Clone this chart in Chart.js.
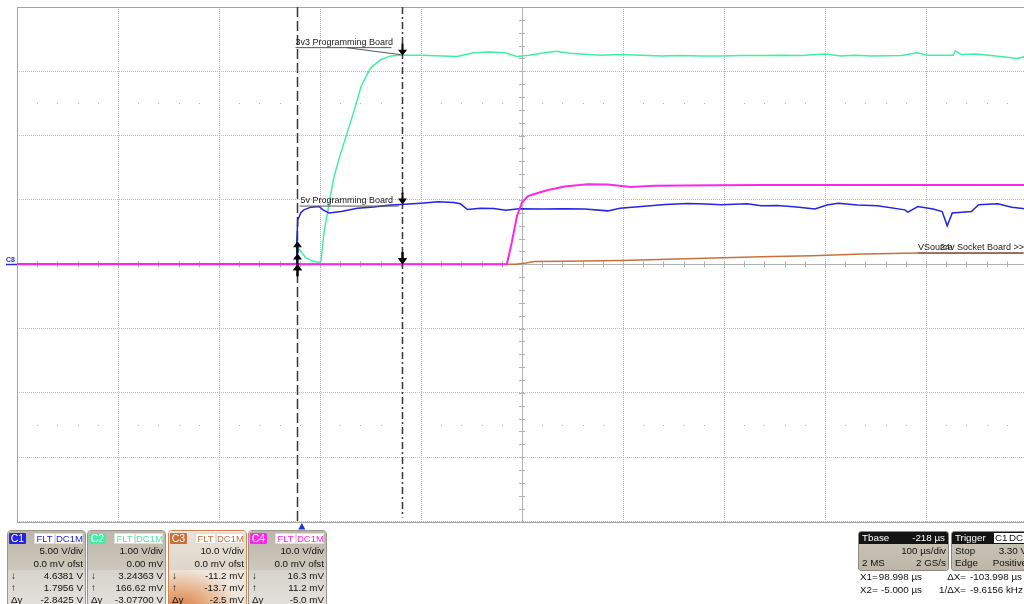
<!DOCTYPE html>
<html>
<head>
<meta charset="utf-8">
<script src="https://cdn.jsdelivr.net/npm/chart.js@4.4.1/dist/chart.umd.min.js"></script>
<style>
html, body { margin: 0; padding: 0; background: #fff; overflow: hidden; width: 1024px; height: 604px; }
#wrap { position: absolute; left: 0; top: 0; width: 1040px; height: 604px; }
.p { position: absolute; font: 9px "Liberation Sans", Arial, sans-serif; color: #111; white-space: nowrap; }
.ch { top: 530px; width: 77px; height: 80px; border: 1px solid #9b968d; border-radius: 4px; overflow: hidden; }
.ch .up { position: absolute; left: 0; top: 0; right: 0; height: 39px; background: linear-gradient(#bdb6a9, #cdc8bd); }
.ch .lo { position: absolute; left: 0; top: 39px; right: 0; bottom: 0; background: linear-gradient(#d6d3cc, #e6e4df); }
.tag { position: absolute; left: 1px; top: 2px; width: 17px; height: 11px; color: #fff; font-size: 10.5px; line-height: 11px; text-align: center; border-radius: 1px; }
.bx { position: absolute; top: 2px; height: 11px; background: #fff; border: 1px solid #ddd; font-size: 9.5px; line-height: 10px; text-align: center; box-sizing: border-box; }
.row { position: absolute; left: 2px; right: 2px; height: 12px; line-height: 12px; text-align: right; font-size: 9.8px; }
.row i { position: absolute; left: 1px; font-style: normal; }
.tb { top: 531px; height: 38px; border: 1px solid #8f8a80; border-radius: 3px; overflow: hidden; background: linear-gradient(#cdc7bb, #bdb6a8); }
.tb .hd { position: absolute; left: 0; right: 0; top: 0; height: 12px; background: #141414; color: #fff; font-size: 9.8px; line-height: 12px; }
.tb .hd b { font-weight: normal; position: absolute; }
.tb .row i { left: 1px; }
</style>
</head>
<body>
<div id="wrap"><canvas id="scope" width="1040" height="604"></canvas></div>
<div id="panels"></div>
<script>
// timebase and channel settings (from the scope readout)
const timeCenter = 218;      // us at screen centre
const timePerDiv = 100;      // us/div
const voltsPerDiv = [5, 1, 10, 10];
const chNames = ['C1', 'C2', 'C3', 'C4'];
const chColors = ['#2424e2', '#3ff0a2', '#c8703c', '#fa28ec'];

// cursors: X1, X2
const cursorT = [98.998, -5.000];
const cursorX1Volts = [4.6381, 3.24363, -0.0112, 0.0163];
const cursorX2Volts = [1.7956, 0.16662, -0.0137, 0.0112];

// C1  5v Programming Board (V)
const c1T = [-282, -5.5, -5, -4, -1, 2, 9, 17, 21, 27, 39, 55, 71, 88, 98, 118, 135, 150, 157, 164, 177, 190, 202, 215, 237, 260, 280, 303, 315, 336, 360, 382, 400, 415, 441, 455, 471, 490, 508, 520, 531, 550, 570, 597, 600, 610, 625, 634, 639, 644, 663, 670, 689, 703, 718];
const c1V = [0, 0, 1.8, 3.45, 4.0, 4.23, 4.44, 4.49, 4.23, 3.99, 4.10, 4.36, 4.45, 4.6, 4.64, 4.75, 4.85, 4.8, 4.70, 4.25, 4.36, 4.33, 4.2, 4.32, 4.29, 4.32, 4.3, 4.15, 4.35, 4.49, 4.65, 4.72, 4.68, 4.62, 4.70, 4.54, 4.56, 4.45, 4.29, 4.6, 4.75, 4.6, 4.54, 4.23, 4.05, 4.49, 4.3, 4.1, 2.99, 3.98, 4.1, 4.62, 4.70, 4.44, 4.29];

// C2  3v3 Programming Board (V)
const c2T = [-282, -5.5, -5, -3, 0, 4, 9, 14, 17, 19, 22, 26, 31, 36, 44, 52, 59, 68, 78, 88, 98, 118, 140, 154, 170, 185, 201, 213, 225, 237, 252, 265, 276, 296, 316, 336, 356, 375, 395, 415, 435, 455, 475, 494, 510, 518, 534, 548, 564, 594, 609, 620, 633, 645, 647, 653, 668, 680, 692, 708, 719];
const c2V = [0, 0, 0.17, 0.24, 0.18, 0.10, 0.06, 0.04, 0.03, 0.05, 0.5, 0.85, 1.3, 1.6, 2.0, 2.4, 2.78, 3.05, 3.18, 3.24, 3.25, 3.25, 3.24, 3.23, 3.29, 3.30, 3.29, 3.23, 3.25, 3.28, 3.31, 3.28, 3.27, 3.25, 3.26, 3.25, 3.24, 3.245, 3.24, 3.24, 3.245, 3.245, 3.25, 3.245, 3.26, 3.27, 3.24, 3.25, 3.24, 3.245, 3.29, 3.25, 3.25, 3.25, 3.32, 3.26, 3.27, 3.25, 3.23, 3.2, 3.24];

// C3  VSource 24v Socket Board (V)
const c3T = [-282, 212, 222, 230, 260, 316, 380, 455, 505, 555, 610, 719];
const c3V = [0, 0, 0.2, 0.43, 0.45, 0.6, 0.85, 1.15, 1.32, 1.58, 1.74, 1.74];

// C4 (V)
const c4T = [-282, 203, 208, 213, 218, 224, 236, 243, 260, 283, 303, 326, 349, 408, 455, 719];
const c4V = [0, 0, 3.5, 7.5, 9.6, 10.6, 11.2, 11.5, 12.1, 12.45, 12.4, 12.0, 12.2, 12.3, 12.34, 12.34];

// readout texts
const chScaleText = ['5.00 V/div', '1.00 V/div', '10.0 V/div', '10.0 V/div'];
const chOfstText = ['0.0 mV ofst', '0.00 mV', '0.0 mV ofst', '0.0 mV ofst'];
const x1Text = ['4.6381 V', '3.24363 V', '-11.2 mV', '16.3 mV'];
const x2Text = ['1.7956 V', '166.62 mV', '-13.7 mV', '11.2 mV'];
const dyText = ['-2.8425 V', '-3.07700 V', '-2.5 mV', '-5.0 mV'];

const tMin = timeCenter - 5 * timePerDiv;
const tMax = timeCenter + 5 * timePerDiv;
const toPts = (t, v) => t.map((x, i) => ({x: x, y: v[i]}));
const FONT = '"Liberation Sans", Arial, sans-serif';

const scopeDeco = {
	id: 'scopeDeco',
	beforeDatasetsDraw(chart) {
		const {ctx, chartArea: a, scales} = chart;
		const xs = scales.x, yd = scales.yd;
		const cx = xs.getPixelForValue(timeCenter), cy = yd.getPixelForValue(0);
		ctx.save();
		ctx.strokeStyle = '#b2b2b2';
		ctx.lineWidth = 1;
		ctx.beginPath();
		ctx.moveTo(Math.round(cx) + 0.5, a.top);
		ctx.lineTo(Math.round(cx) + 0.5, a.bottom);
		ctx.moveTo(a.left, Math.round(cy) + 0.5);
		ctx.lineTo(a.right, Math.round(cy) + 0.5);
		// minor ticks on the centre axes
		for (let i = 1; i < 50; i++) {
			const px = Math.round(xs.getPixelForValue(tMin + i * timePerDiv / 5)) + 0.5;
			ctx.moveTo(px, cy - 3);
			ctx.lineTo(px, cy + 3);
		}
		for (let i = 1; i < 40; i++) {
			const py = Math.round(yd.getPixelForValue(-4 + i / 5)) + 0.5;
			ctx.moveTo(cx - 3, py);
			ctx.lineTo(cx + 3, py);
		}
		ctx.stroke();
		// dotted rows at +/- 2.5 div
		ctx.fillStyle = '#b5b5b5';
		[2.5, -2.5].forEach(d => {
			const py = Math.round(yd.getPixelForValue(d));
			for (let i = 1; i < 50; i++) {
				if (i % 5 === 0) continue;
				ctx.fillRect(Math.round(xs.getPixelForValue(tMin + i * timePerDiv / 5)), py, 1, 1);
			}
		});
		// frame
		ctx.strokeStyle = '#a4a4a4';
		ctx.strokeRect(Math.round(a.left) + 0.5, Math.round(a.top) + 0.5, Math.round(a.right - a.left), Math.round(a.bottom - a.top));
		ctx.restore();
	},
	afterDatasetsDraw(chart) {
		const {ctx, chartArea: a, scales} = chart;
		const xs = scales.x;
		const chY = (c, v) => scales['c' + (c + 1)].getPixelForValue(v);
		const x1 = Math.round(xs.getPixelForValue(cursorT[0])) + 0.5;
		const x2 = Math.round(xs.getPixelForValue(cursorT[1])) + 0.5;
		ctx.save();
		// cursors
		ctx.strokeStyle = '#383838';
		ctx.lineWidth = 1.5;
		ctx.setLineDash([10, 4]);
		ctx.beginPath(); ctx.moveTo(x2, a.top); ctx.lineTo(x2, a.bottom); ctx.stroke();
		ctx.setLineDash([7, 3, 2, 3]);
		ctx.beginPath(); ctx.moveTo(x1, a.top); ctx.lineTo(x1, a.bottom - 4); ctx.stroke();
		ctx.setLineDash([]);
		// cursor arrows
		const arrow = (x, y, dir) => {
			ctx.beginPath();
			ctx.moveTo(x, y - dir * 12);
			ctx.lineTo(x, y - dir * 4);
			ctx.lineWidth = 2;
			ctx.strokeStyle = '#000';
			ctx.stroke();
			ctx.beginPath();
			ctx.moveTo(x, y);
			ctx.lineTo(x - 4.5, y - dir * 6);
			ctx.lineTo(x + 4.5, y - dir * 6);
			ctx.closePath();
			ctx.fillStyle = '#000';
			ctx.fill();
		};
		for (let c = 0; c < 4; c++) {
			arrow(x1, chY(c, cursorX1Volts[c]), 1);
			arrow(x2, chY(c, cursorX2Volts[c]), -1);
		}
		// labels
		ctx.font = '9px ' + FONT;
		ctx.fillStyle = '#1c1c1c';
		ctx.strokeStyle = '#555';
		ctx.lineWidth = 1;
		let py = chY(1, cursorX1Volts[1]);
		ctx.fillText('3v3 Programming Board', x2 - 2, py - 10.5);
		ctx.beginPath();
		ctx.moveTo(x2 - 2, py - 8); ctx.lineTo(x1 - 11, py - 8);
		ctx.moveTo(x2 + 49, py - 8); ctx.lineTo(x1 - 2, py - 1);
		ctx.stroke();
		py = chY(0, cursorX1Volts[0]);
		ctx.fillText('5v Programming Board', x2 + 3, py - 1.5);
		ctx.beginPath();
		ctx.moveTo(x2 + 2, py + 1.5); ctx.lineTo(x1 - 4, py + 1.5);
		ctx.stroke();
		const vx = xs.getPixelForValue(c3T[10]);
		py = chY(2, c3V[10]);
		ctx.fillText('VSource', vx, py - 3.5);
		ctx.fillText('24v Socket Board >>', vx + 22, py - 3.5);
		ctx.beginPath();
		ctx.moveTo(vx, py); ctx.lineTo(vx + 105, py);
		ctx.stroke();
		// trigger position marker
		const tx = xs.getPixelForValue(0);
		ctx.fillStyle = '#2030e0';
		ctx.beginPath();
		ctx.moveTo(tx, a.bottom + 1.5);
		ctx.lineTo(tx - 3.5, a.bottom + 8);
		ctx.lineTo(tx + 3.5, a.bottom + 8);
		ctx.closePath();
		ctx.fill();
		// ground marker
		const gy = Math.round(scales.yd.getPixelForValue(0)) + 0.5;
		ctx.font = 'bold 7px ' + FONT;
		ctx.fillText('C8', 6, gy - 2.5);
		ctx.strokeStyle = '#2030e0';
		ctx.lineWidth = 1.5;
		ctx.beginPath(); ctx.moveTo(6, gy); ctx.lineTo(a.left, gy); ctx.stroke();
		ctx.restore();
	}
};

const gridOpts = {color: '#bdbdbd', lineWidth: 1, drawTicks: false};
const chScales = {};
voltsPerDiv.forEach((vd, i) => {
	chScales['c' + (i + 1)] = {type: 'linear', display: false, min: -4 * vd, max: 4 * vd};
});

new Chart(document.getElementById('scope'), {
	type: 'line',
	data: {
		datasets: [
			{label: 'C4', data: toPts(c4T, c4V), yAxisID: 'c4', borderColor: chColors[3], borderWidth: 2, order: 0},
			{label: 'C1', data: toPts(c1T, c1V), yAxisID: 'c1', borderColor: chColors[0], order: 1},
			{label: 'C2', data: toPts(c2T, c2V), yAxisID: 'c2', borderColor: chColors[1], order: 2},
			{label: 'C3', data: toPts(c3T, c3V), yAxisID: 'c3', borderColor: chColors[2], order: 3}
		]
	},
	options: {
		responsive: false,
		animation: false,
		events: [],
		layout: {padding: {left: 17, top: 7, right: 13, bottom: 82.5}},
		elements: {point: {radius: 0}, line: {borderWidth: 1.5, tension: 0}},
		plugins: {legend: {display: false}, tooltip: {enabled: false}},
		scales: Object.assign({
			x: {
				type: 'linear', min: tMin, max: tMax,
				afterBuildTicks: s => { s.ticks = Array.from({length: 11}, (_, i) => ({value: tMin + i * timePerDiv})); },
				ticks: {display: false},
				grid: gridOpts,
				border: {display: false, dash: [1, 1]}
			},
			yd: {
				type: 'linear', position: 'left', min: -4, max: 4,
				ticks: {display: false, stepSize: 1},
				grid: gridOpts,
				border: {display: false, dash: [1, 1]}
			}
		}, chScales)
	},
	plugins: [scopeDeco]
});

// readout panels
const panels = document.getElementById('panels');
const chLeft = [7, 87, 168, 248];
let html = '';
for (let i = 0; i < 4; i++) {
	const c = chColors[i];
	const sel = i === 2;
	html += '<div class="p ch" style="left:' + chLeft[i] + 'px;' + (sel ? 'border-color:#d58450;' : '') + '">' +
		'<div class="up" style="' + (sel ? 'background:linear-gradient(#e9e4da,#ddd6ca);' : '') + '"></div>' +
		'<div class="lo" style="' + (sel ? 'background:radial-gradient(ellipse 90% 120% at 15% 100%,#d8773c,#e8b892 50%,#eee6dc 85%);' : '') + '"></div>' +
		'<div class="tag" style="background:' + c + '">' + chNames[i] + '</div>' +
		'<div class="bx" style="left:26px;width:21px;color:' + c + '">FLT</div>' +
		'<div class="bx" style="left:47px;width:28px;color:' + c + '">DC1M</div>' +
		'<div class="row" style="top:14px">' + chScaleText[i] + '</div>' +
		'<div class="row" style="top:27px">' + chOfstText[i] + '</div>' +
		'<div class="row" style="top:39px"><i>&darr;</i>' + x1Text[i] + '</div>' +
		'<div class="row" style="top:51px"><i>&uarr;</i>' + x2Text[i] + '</div>' +
		'<div class="row" style="top:63px"><i>&Delta;y</i>' + dyText[i] + '</div>' +
		'</div>';
}
html += '<div class="p tb" style="left:858px;width:89px">' +
	'<div class="hd"><b style="left:3px">Tbase</b><b style="right:3px">-218 &micro;s</b></div>' +
	'<div class="row" style="top:13px">' + timePerDiv + ' &micro;s/div</div>' +
	'<div class="row" style="top:25px"><i>2 MS</i>2 GS/s</div></div>';
html += '<div class="p tb" style="left:951px;width:77px">' +
	'<div class="hd"><b style="left:3px">Trigger</b>' +
	'<b style="left:42px;top:1px;height:10px;line-height:10px;background:#fff;color:#111;padding:0 1px">C1</b>' +
	'<b style="left:56px;top:1px;height:10px;line-height:10px;background:#fff;color:#111;padding:0 1px">DC</b></div>' +
	'<div class="row" style="top:13px"><i>Stop</i>3.30 V</div>' +
	'<div class="row" style="top:25px"><i>Edge</i>Positive</div></div>';
const curRows = [['X1=', cursorT[0].toFixed(3) + ' &micro;s', '&Delta;X=', '-103.998 &micro;s'],
	['X2=', cursorT[1].toFixed(3) + ' &micro;s', '1/&Delta;X=', '-9.6156 kHz']];
curRows.forEach((r, k) => {
	const top = 571 + k * 13;
	html += '<div class="p" style="left:860px;top:' + top + 'px;font-size:9.8px">' + r[0] + '</div>' +
		'<div class="p" style="left:874px;width:48px;text-align:right;top:' + top + 'px;font-size:9.8px">' + r[1] + '</div>' +
		'<div class="p" style="left:925px;width:41px;text-align:right;top:' + top + 'px;font-size:9.8px">' + r[2] + '</div>' +
		'<div class="p" style="left:970px;top:' + top + 'px;font-size:9.8px">' + r[3] + '</div>';
});
panels.innerHTML = html;
</script>
</body>
</html>
